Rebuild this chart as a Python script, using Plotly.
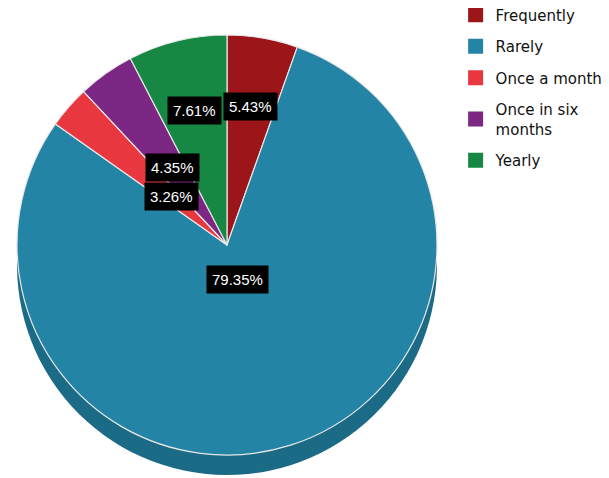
import math
import plotly.graph_objects as go

# ---- data ----
labels = ["Frequently", "Rarely", "Once a month", "Once in six months", "Yearly"]
legend_labels = ["Frequently", "Rarely", "Once a month", "Once in six<br>months", "Yearly"]
values = [5.43, 79.35, 3.26, 4.35, 7.61]
colors = ["#9c1518", "#2484a5", "#e8373f", "#7b2783", "#168843"]
side_colors = ["#6e0f11", "#1b6a86", "#a8282e", "#561b5c", "#0f5f2e"]
label_radius = [0.67, 0.17, 0.35, 0.45, 0.66]  # radial placement of value boxes

W, H = 609, 478
OFF = 8  # page body margin
cx_px, cy_px, r_px, depth = 227 - OFF, 245 - OFF, 210, 20

def dom(cx, cy, r):
    return dict(x=[(cx - r) / W, (cx + r) / W],
                y=[1 - (cy + r) / H, 1 - (cy - r) / H])

fig = go.Figure()

# side (3D thickness) - same pie, darker, shifted down
fig.add_trace(go.Pie(
    labels=labels, values=values, sort=False, direction="clockwise", rotation=0,
    marker=dict(colors=side_colors, line=dict(width=0)),
    textinfo="none", hoverinfo="skip", showlegend=False,
    domain=dom(cx_px, cy_px + depth, r_px),
))
# top face
fig.add_trace(go.Pie(
    labels=labels, values=values, sort=False, direction="clockwise", rotation=0,
    marker=dict(colors=colors, line=dict(color="#e8e8e8", width=1.2)),
    textinfo="none", showlegend=False,
    domain=dom(cx_px, cy_px, r_px),
))

# legend entries
for i, (lab, col) in enumerate(zip(legend_labels, colors)):
    fig.add_trace(go.Scatter(
        x=[None], y=[None], mode="markers", name=lab,
        marker=dict(symbol="square", size=15, color=col),
        legendgroup=f"g{i}", showlegend=True,
    ))

# value boxes, placed at each slice's mid-angle
total = sum(values)
cum = 0.0
for v, f in zip(values, label_radius):
    mid = (cum + v / 2) / total * 2 * math.pi
    cum += v
    px = cx_px + f * r_px * math.sin(mid)
    py = cy_px - f * r_px * math.cos(mid)
    fig.add_annotation(
        x=px / W, y=1 - py / H, xref="paper", yref="paper",
        xanchor="center", yanchor="middle",
        text=f"{v / total * 100:.2f}%", showarrow=False,
        font=dict(family="Liberation Sans", size=15, color="white"),
        bgcolor="black", borderpad=5,
    )

fig.update_layout(
    width=W, height=H,
    margin=dict(l=0, r=0, t=0, b=0, autoexpand=False),
    paper_bgcolor="white", plot_bgcolor="white",
    xaxis=dict(visible=False), yaxis=dict(visible=False),
    legend=dict(
        x=0.735, y=1.02, xanchor="left", yanchor="top",
        font=dict(family="DejaVu Sans", size=15, color="#111111"),
        tracegroupgap=9, itemsizing="trace",
        bgcolor="rgba(0,0,0,0)",
    ),
    showlegend=True,
)

fig.write_html("out.html")
